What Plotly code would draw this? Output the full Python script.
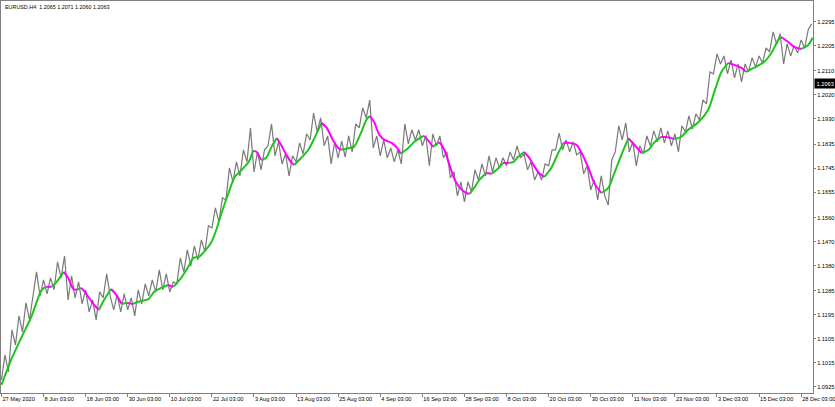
import plotly.graph_objects as go

# ---- data ----
title_text = "EURUSD,H4  1.2065 1.2071 1.2060 1.2063"
last_price = 1.2063

price_step = 4  # price sampled every 4 H4 bars
price = [
    1.0951, 1.1045, 1.0981, 1.1139, 1.1082, 1.1191, 1.1131, 1.1240, 1.1176, 1.1266,
    1.1356, 1.1266, 1.1326, 1.1274, 1.1334, 1.1289, 1.1394, 1.1334, 1.1416, 1.1251,
    1.1341, 1.1259, 1.1319, 1.1236, 1.1289, 1.1206, 1.1251, 1.1176, 1.1281, 1.1259,
    1.1349, 1.1266, 1.1214, 1.1270, 1.1206, 1.1274, 1.1214, 1.1259, 1.1191, 1.1289,
    1.1236, 1.1311, 1.1266, 1.1326, 1.1281, 1.1364, 1.1289, 1.1349, 1.1281, 1.1319,
    1.1311, 1.1409, 1.1356, 1.1439, 1.1379, 1.1454, 1.1401, 1.1476, 1.1431, 1.1529,
    1.1521, 1.1596, 1.1544, 1.1634, 1.1626, 1.1746, 1.1694, 1.1769, 1.1716, 1.1814,
    1.1769, 1.1896, 1.1731, 1.1806, 1.1739, 1.1814, 1.1829, 1.1911, 1.1791, 1.1844,
    1.1761, 1.1799, 1.1716, 1.1791, 1.1769, 1.1840, 1.1799, 1.1874, 1.1851, 1.1952,
    1.1881, 1.1934, 1.1829, 1.1866, 1.1761, 1.1844, 1.1784, 1.1847, 1.1787, 1.1866,
    1.1806, 1.1911, 1.1896, 1.1971, 1.1934, 1.2001, 1.1821, 1.1866, 1.1791, 1.1851,
    1.1784, 1.1821, 1.1769, 1.1814, 1.1761, 1.1911, 1.1836, 1.1889, 1.1851, 1.1889,
    1.1829, 1.1866, 1.1754, 1.1874, 1.1829, 1.1866, 1.1784, 1.1806, 1.1709, 1.1731,
    1.1641, 1.1694, 1.1619, 1.1694, 1.1656, 1.1739, 1.1701, 1.1761, 1.1716, 1.1791,
    1.1731, 1.1784, 1.1746, 1.1784, 1.1754, 1.1806, 1.1776, 1.1829, 1.1784, 1.1799,
    1.1739, 1.1769, 1.1701, 1.1731, 1.1701, 1.1761, 1.1754, 1.1814, 1.1814, 1.1877,
    1.1814, 1.1851, 1.1806, 1.1844, 1.1795, 1.1806, 1.1724, 1.1754, 1.1664, 1.1701,
    1.1626, 1.1716, 1.1641, 1.1607, 1.1776, 1.1806, 1.1904, 1.1851, 1.1915, 1.1806,
    1.1844, 1.1754, 1.1829, 1.1799, 1.1866, 1.1829, 1.1885, 1.1844, 1.1896, 1.1840,
    1.1885, 1.1829, 1.1874, 1.1806, 1.1904, 1.1881, 1.1941, 1.1892, 1.1949, 1.1926,
    1.2001, 1.1986, 1.2106, 1.2099, 1.2174, 1.2136, 1.2166, 1.2099, 1.2151, 1.2084,
    1.2136, 1.2069, 1.2136, 1.2106, 1.2159, 1.2125, 1.2166, 1.2140, 1.2196, 1.2181,
    1.2256, 1.2211, 1.2249, 1.2136, 1.2211, 1.2166, 1.2204, 1.2177, 1.2226, 1.2196,
    1.2264, 1.2286,
]
price_bar = [i * price_step for i in range(len(price))]

ma_bar = [
    0, 11, 23, 34, 46, 51, 57, 63, 71, 76, 82, 86, 91, 95, 103, 111, 117, 125, 131, 137,
    143, 150, 156, 168, 174, 182, 190, 196, 205, 213, 219, 225, 231, 239, 245, 251, 259, 266, 274, 282,
    287, 291, 296, 302, 308, 314, 319, 325, 331, 334, 342, 350, 357, 365, 371, 378, 384, 388, 397, 402,
    410, 416, 420, 425, 431, 437, 445, 453, 455, 464, 471, 479, 482, 488, 492, 498, 500, 505, 511, 516,
    522, 530, 534, 539, 545, 553, 559, 567, 572, 579, 584, 589, 596, 602, 608, 613, 619, 627, 635, 641,
    648, 656, 661, 669, 676, 684, 692, 699, 707, 715, 722, 730, 738, 744, 752, 758, 767, 775, 783, 795,
    806, 813, 821, 829, 836, 844, 849, 858, 870, 878, 886, 889, 897, 904, 912, 920, 925,
]
ma_val = [
    1.0932, 1.1026, 1.1112, 1.1187, 1.1289, 1.1300, 1.1300, 1.1319, 1.1356, 1.1334,
    1.1292, 1.1289, 1.1296, 1.1281, 1.1244, 1.1213, 1.1251, 1.1292, 1.1270, 1.1236,
    1.1240, 1.1236, 1.1244, 1.1255, 1.1281, 1.1296, 1.1307, 1.1300, 1.1334, 1.1375,
    1.1409, 1.1412, 1.1431, 1.1465, 1.1514, 1.1577, 1.1652, 1.1712, 1.1739, 1.1769,
    1.1810, 1.1806, 1.1776, 1.1784, 1.1825, 1.1858, 1.1832, 1.1795, 1.1765, 1.1757,
    1.1784, 1.1814, 1.1858, 1.1915, 1.1896, 1.1851, 1.1821, 1.1814, 1.1821, 1.1825,
    1.1877, 1.1926, 1.1941, 1.1918, 1.1870, 1.1851, 1.1840, 1.1814, 1.1799, 1.1821,
    1.1844, 1.1862, 1.1866, 1.1844, 1.1825, 1.1840, 1.1840, 1.1814, 1.1757, 1.1709,
    1.1675, 1.1652, 1.1649, 1.1671, 1.1701, 1.1727, 1.1724, 1.1746, 1.1765, 1.1765,
    1.1769, 1.1787, 1.1806, 1.1784, 1.1750, 1.1727, 1.1712, 1.1746, 1.1802, 1.1840,
    1.1840, 1.1832, 1.1806, 1.1750, 1.1690, 1.1652, 1.1671, 1.1727, 1.1795, 1.1858,
    1.1832, 1.1802, 1.1814, 1.1840, 1.1862, 1.1862, 1.1855, 1.1862, 1.1889, 1.1918,
    1.1964, 1.2031, 1.2106, 1.2140, 1.2132, 1.2121, 1.2106, 1.2121, 1.2144, 1.2177,
    1.2226, 1.2237, 1.2219, 1.2200, 1.2192, 1.2207, 1.2234,
]

x_tick_bars = [0, 48, 96, 144, 192, 240, 288, 336, 384, 432, 480, 528, 576, 624, 672, 720, 768, 816, 864, 912]
x_tick_text = [
    "27 May 2020", "8 Jun 03:00", "18 Jun 03:00", "30 Jun 03:00", "10 Jul 03:00",
    "22 Jul 03:00", "3 Aug 03:00", "13 Aug 03:00", "25 Aug 03:00", "4 Sep 03:00",
    "16 Sep 03:00", "28 Sep 03:00", "8 Oct 03:00", "20 Oct 03:00", "30 Oct 03:00",
    "11 Nov 03:00", "23 Nov 03:00", "3 Dec 03:00", "15 Dec 03:00", "28 Dec 03:00",
]
y_tick_vals = [1.0925, 1.1015, 1.1105, 1.1195, 1.1285, 1.1380, 1.1470, 1.1560,
               1.1655, 1.1745, 1.1835, 1.1930, 1.2020, 1.2110, 1.2205, 1.2295]

# ---- styling ----
GREY = "#7a7a7a"
UP = "#1fc41f"
DOWN = "#ff00ff"
FONT = "Liberation Sans"

fig = go.Figure()
fig.add_trace(go.Scatter(x=price_bar, y=price, mode="lines",
                         line=dict(color=GREY, width=1.2), hoverinfo="skip"))

# MA coloured by direction
runs = []
start = 0
for j in range(1, len(ma_val) - 1):
    up_prev = ma_val[j] > ma_val[j - 1]
    up_next = ma_val[j + 1] > ma_val[j]
    if up_prev != up_next:
        runs.append((start, j, up_prev))
        start = j
runs.append((start, len(ma_val) - 1, ma_val[-1] > ma_val[-2]))
for s, e, up in runs:
    fig.add_trace(go.Scatter(x=ma_bar[s:e + 1], y=ma_val[s:e + 1], mode="lines",
                             line=dict(color=UP if up else DOWN, width=2, shape="spline", smoothing=0.8),
                             hoverinfo="skip"))

fig.add_annotation(xref="paper", yref="paper", x=0.002, y=0.998, xanchor="left", yanchor="top",
                   text=title_text, showarrow=False, font=dict(family=FONT, size=5.4, color="#000"))
fig.add_annotation(xref="paper", yref="y", x=1.0, y=last_price, xanchor="left", yanchor="middle",
                   xshift=1, text=f"{last_price:.4f}", showarrow=False, bgcolor="#000",
                   font=dict(family=FONT, size=5.7, color="#fff"), borderpad=1.5)

fig.update_layout(
    width=835, height=407,
    margin=dict(l=1, r=22, t=1, b=14, autoexpand=False),
    paper_bgcolor="white", plot_bgcolor="white",
    showlegend=False,
    font=dict(family=FONT, size=6, color="#000"),
    xaxis=dict(range=[-0.5, 925.5], tickmode="array", tickvals=x_tick_bars, ticktext=x_tick_text,
               ticks="outside", ticklen=3, tickcolor="#808080", ticklabelposition="outside right",
               ticklabeloverflow="allow", tickangle=0, automargin=False,
               showgrid=False, zeroline=False, showline=True, linecolor="#808080", mirror=True,
               tickfont=dict(family=FONT, size=5.6)),
    yaxis=dict(side="right", range=[1.0902, 1.2372], tickmode="array", tickvals=y_tick_vals,
               tickformat=".4f", ticks="outside", ticklen=2, tickcolor="#808080", automargin=False,
               showgrid=False, zeroline=False, showline=True, linecolor="#808080", mirror=True,
               tickfont=dict(family=FONT, size=5.7)),
)

fig.write_html("out.html", config={"displayModeBar": False},
               post_script="document.body.style.margin='0';document.body.style.overflow='hidden';")
